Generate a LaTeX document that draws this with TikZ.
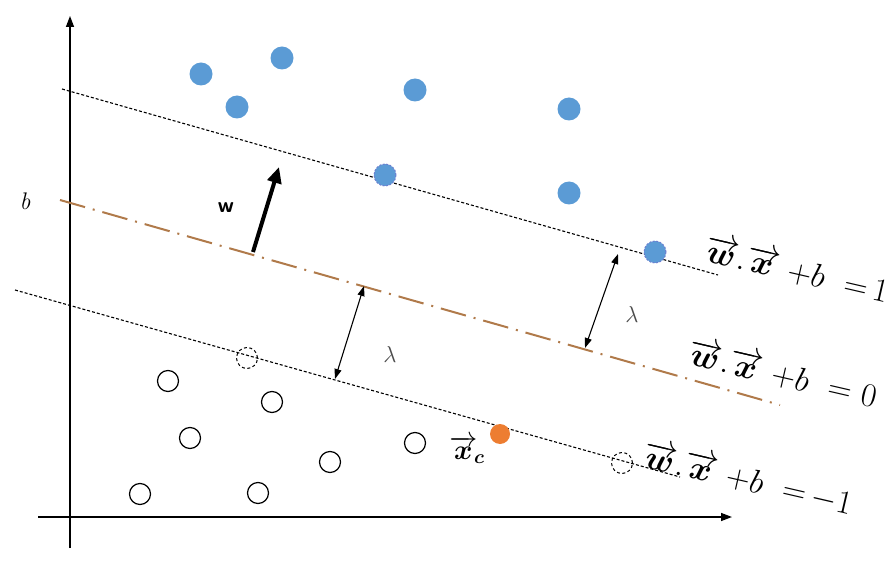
\documentclass[tikz,border=0pt]{standalone}
\usepackage{amsmath}
\usetikzlibrary{arrows.meta}
\definecolor{ptblue}{HTML}{5B9BD5}
\definecolor{ptorange}{HTML}{ED7D31}
\definecolor{hypline}{HTML}{B07A4A}
\definecolor{dashblue}{HTML}{6E7FD0}
\tikzset{
  axis/.style={line width=1.4pt,-{Triangle[length=11pt,width=8pt]}},
  margin/.style={line width=1.1pt,dash pattern=on 3pt off 2pt},
  hyper/.style={line width=2pt,hypline,dash pattern=on 26pt off 8pt on 2pt off 8pt},
  bluept/.style={circle,fill=ptblue,minimum size=23pt,inner sep=0pt},
  bluesv/.style={circle,fill=ptblue,draw=dashblue,dash pattern=on 2pt off 1.5pt,line width=1pt,minimum size=22pt,inner sep=0pt},
  openpt/.style={circle,draw=black,line width=1.2pt,minimum size=21pt,inner sep=0pt},
  opensv/.style={circle,draw=black,line width=1pt,dash pattern=on 3pt off 2.5pt,minimum size=21pt,inner sep=0pt},
  orgpt/.style={circle,fill=ptorange,minimum size=20pt,inner sep=0pt},
  dist/.style={line width=1.1pt,{Triangle[length=10pt,width=7pt]}-{Triangle[length=10pt,width=7pt]}},
  eqlab/.style={rotate=-13,scale=1.6,inner sep=0pt,font=\fontsize{20.74}{25}\selectfont},
  lamlab/.style={text=black!70,scale=1.6,font=\fontsize{14.4}{17}\selectfont},
}
\begin{document}
\begin{tikzpicture}[x=1pt,y=-1pt]
\useasboundingbox (0,0) rectangle (896,569);
% axes
\coordinate (yb) at (70,548);
\coordinate (yt) at (70,16);
\coordinate (xl) at (38,517);
\coordinate (xr) at (732,517);
\draw[axis] (yb) -- (yt);
\draw[axis] (xl) -- (xr);
% lines
\coordinate (u1) at (62,89);
\coordinate (u2) at (718,275);
\coordinate (m1) at (60,200);
\coordinate (m2) at (780,405);
\coordinate (l1) at (15,290);
\coordinate (l2) at (680,477);
\draw[margin] (u1) -- (u2);
\draw[margin] (l1) -- (l2);
\draw[hyper] (m1) -- (m2);
% points blue
\node[bluept] (b1) at (201,74) {};
\node[bluept] (b2) at (282,58) {};
\node[bluept] (b3) at (237,107) {};
\node[bluept] (b4) at (415,90) {};
\node[bluept] (b5) at (569,109) {};
\node[bluept] (b6) at (569,193) {};
\node[bluesv] (s1) at (385,175) {};
\node[bluesv] (s2) at (655,252) {};
% open points
\node[openpt] (o1) at (168,381) {};
\node[openpt] (o2) at (272,402) {};
\node[openpt] (o3) at (190,438) {};
\node[openpt] (o4) at (330,462) {};
\node[openpt] (o5) at (415,443) {};
\node[openpt] (o6) at (140,494) {};
\node[openpt] (o7) at (258,493) {};
\node[opensv] (s3) at (247,358) {};
\node[opensv] (s4) at (622,463) {};
\node[orgpt] (xc) at (500,434) {};
% distances
\coordinate (d1a) at (335,379);
\coordinate (d1b) at (364,286);
\coordinate (d2a) at (585,348);
\coordinate (d2b) at (618,254);
\draw[dist] (d1a) -- (d1b);
\draw[dist] (d2a) -- (d2b);
\node[lamlab] (lam1) at (390,354) {$\lambda$};
\node[lamlab] (lam2) at (632,314) {$\lambda$};
% w vector
\coordinate (w1) at (253,252);
\coordinate (w2) at (279,167);
\draw[line width=4pt,-{Triangle[length=16pt,width=14pt]}] (w1) -- (w2);
\node[scale=1.5,font=\sffamily\bfseries\fontsize{14.4}{17}\selectfont] (wl) at (226,208) {w};
\node[scale=1.5,font=\itshape\fontsize{16}{19}\selectfont] (bl) at (25,201) {b};
% x_c label
\node[scale=1.35,font=\fontsize{20.74}{25}\selectfont] (xcl) at (467,450) {$\overrightarrow{\boldsymbol{x}}_{\!\boldsymbol{c}}$};
% equations
\node[eqlab] (e1) at (797,270) {$\overrightarrow{\boldsymbol{w}}.\overrightarrow{\boldsymbol{x}}\ {+}b\ \ {=}\,1$};
\node[eqlab] (e0) at (783,374) {$\overrightarrow{\boldsymbol{w}}.\overrightarrow{\boldsymbol{x}}\ {+}b\ \ {=}\ 0$};
\node[eqlab] (em) at (748,479) {$\overrightarrow{\boldsymbol{w}}.\overrightarrow{\boldsymbol{x}}\ {+}b\ \ {=}\,{-}1$};
\end{tikzpicture}
\end{document}
